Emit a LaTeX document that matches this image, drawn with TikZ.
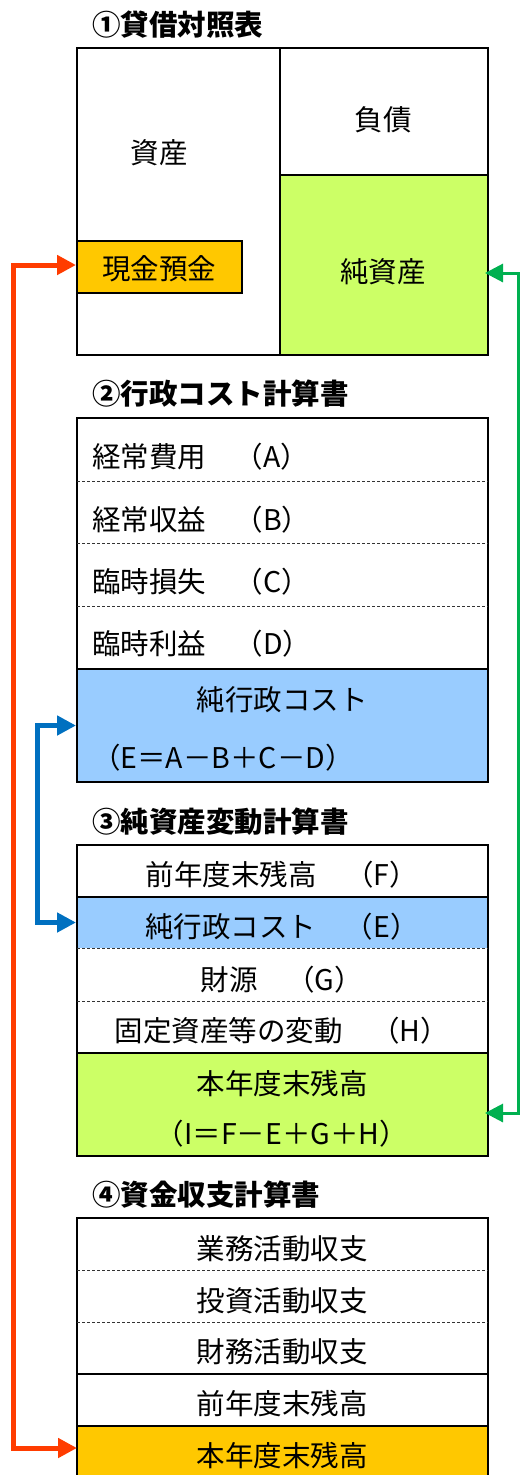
\documentclass[tikz,border=0pt]{standalone}
\usepackage{fontspec}
\setmainfont{Noto Sans CJK JP}
\usetikzlibrary{arrows.meta}
\definecolor{cashor}{HTML}{FFC800}
\definecolor{netgr}{HTML}{CCFF66}
\definecolor{costbl}{HTML}{99CCFF}
\definecolor{arrOr}{HTML}{FF3C00}
\definecolor{arrGr}{HTML}{00B050}
\definecolor{arrBl}{HTML}{0070C0}
\begin{document}
\begin{tikzpicture}[x=1pt,y=-1pt,
  every node/.style={font=\fontsize{28.5}{34}\selectfont, inner sep=0pt, outer sep=0pt},
  title/.style={font=\fontsize{28.5}{34}\selectfont\bfseries, anchor=west},
  cell/.style={minimum width=411pt, anchor=north west},
  frame/.style={draw=black, line width=2pt},
  dsep/.style={draw=black!80, line width=1pt, dash pattern=on 3.3pt off 1.7pt},
  connO/.style={draw=arrOr, line width=5pt, {Triangle[length=19pt,width=19pt]}-{Triangle[length=19pt,width=19pt]}},
  connB/.style={draw=arrBl, line width=5pt, {Triangle[length=19pt,width=19pt]}-{Triangle[length=19pt,width=19pt]}},
  connG/.style={draw=arrGr, line width=3pt, {Triangle[length=18pt,width=18pt]}-{Triangle[length=18pt,width=18pt]}},
]
\path[use as bounding box] (0,0) rectangle (520,1475);
\clip (0,0) rectangle (520,1475);

% ---------- 1 balance sheet
\node[title] (t1) at (92,25) {①貸借対照表};
\node[cell, minimum width=203pt, minimum height=307pt] (assets) at (77,48) {};
\node[cell, minimum width=208pt, minimum height=127pt] (liab) at (280,48) {};
\node[cell, minimum width=208pt, minimum height=180pt, fill=netgr] (net) at (280,175) {};
\draw[frame] (assets.north west) rectangle (net.south east);
\draw[frame] (liab.north west) -- (assets.south east);
\draw[frame] (liab.south west) -- (liab.south east);
\node[cell, minimum width=165pt, minimum height=52pt, fill=cashor, draw=black, line width=2pt] (cash) at (77,241) {};
\node (tassets) at (159,153) {資産};
\node (tliab) at (383,120) {負債};
\node (tnet) at (383,272) {純資産};
\node (tcash) at (159,269) {現金預金};

% ---------- 2 cost statement
\node[title] (t2) at (92,394) {②行政コスト計算書};
\node[cell, minimum height=63pt] (ca) at (77,418) {};
\node[cell, minimum height=62pt] (cb) at (77,481) {};
\node[cell, minimum height=63pt] (cc) at (77,543) {};
\node[cell, minimum height=63pt] (cd) at (77,606) {};
\node[cell, minimum height=113pt, fill=costbl] (ctot) at (77,669) {};
\draw[frame] (ca.north west) rectangle (ctot.south east);
\draw[dsep] (ca.south west) -- (ca.south east);
\draw[dsep] (cb.south west) -- (cb.south east);
\draw[dsep] (cc.south west) -- (cc.south east);
\draw[frame] (cd.south west) -- (cd.south east);
\node[anchor=west] (tca) at (92,457) {経常費用　（A）};
\node[anchor=west] (tcb) at (92,520) {経常収益　（B）};
\node[anchor=west] (tcc) at (92,582) {臨時損失　（C）};
\node[anchor=west] (tcd) at (92,644) {臨時利益　（D）};
\node (tct1) at (282,700) {純行政コスト};
\node[anchor=west] (tct2) at (92,758) {（E＝A－B＋C－D）};

% ---------- 3 net asset change statement
\node[title] (t3) at (92,822) {③純資産変動計算書};
\node[cell, minimum height=52pt] (nF) at (77,845) {};
\node[cell, minimum height=51pt, fill=costbl] (nE) at (77,897) {};
\node[cell, minimum height=53pt] (nG) at (77,948) {};
\node[cell, minimum height=52pt] (nH) at (77,1001) {};
\node[cell, minimum height=103pt, fill=netgr] (nI) at (77,1053) {};
\draw[frame] (nF.north west) rectangle (nI.south east);
\draw[frame] (nF.south west) -- (nF.south east);
\draw[dsep] (nE.south west) -- (nE.south east);
\draw[dsep] (nG.south west) -- (nG.south east);
\draw[frame] (nH.south west) -- (nH.south east);
\node (tnF) at (282,875) {前年度末残高　（F）};
\node (tnE) at (282,927) {純行政コスト　（E）};
\node (tnG) at (282,980) {財源　（G）};
\node (tnH) at (282,1031) {固定資産等の変動　（H）};
\node (tnI1) at (282,1084) {本年度末残高};
\node (tnI2) at (282,1134) {（I＝F－E＋G＋H）};

% ---------- 4 cash flow statement
\node[title] (t4) at (92,1195) {④資金収支計算書};
\node[cell, minimum height=52pt] (f1) at (77,1218) {};
\node[cell, minimum height=52pt] (f2) at (77,1270) {};
\node[cell, minimum height=52pt] (f3) at (77,1322) {};
\node[cell, minimum height=52pt] (f4) at (77,1374) {};
\node[cell, minimum height=64pt, fill=cashor] (f5) at (77,1426) {};
\draw[frame] (f1.north west) rectangle (f5.south east);
\draw[dsep] (f1.south west) -- (f1.south east);
\draw[dsep] (f2.south west) -- (f2.south east);
\draw[frame] (f3.south west) -- (f3.south east);
\draw[frame] (f4.south west) -- (f4.south east);
\node (tf1) at (282,1249) {業務活動収支};
\node (tf2) at (282,1301) {投資活動収支};
\node (tf3) at (282,1352) {財務活動収支};
\node (tf4) at (282,1404) {前年度末残高};
\node (tf5) at (282,1456) {本年度末残高};

% ---------- connectors
\draw[connO] ([yshift=10pt]f5.west) -- ++(-64,0) |- ([xshift=-1pt,yshift=2pt]cash.west);
\draw[connB] ([xshift=-1pt]ctot.west) -- ++(-39,0) |- ([xshift=-1pt]nE.west);
\draw[connG] ([xshift=-3pt,yshift=-8.5pt]nI.east) -- ++(33,0) |- ([xshift=-3pt,yshift=-8pt]net.east);
\end{tikzpicture}
\end{document}
